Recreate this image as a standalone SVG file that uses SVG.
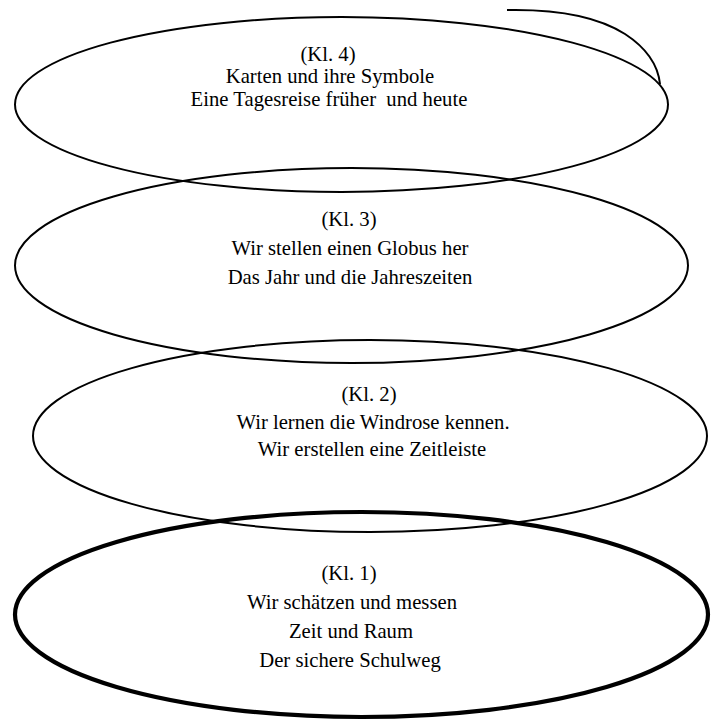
<svg xmlns="http://www.w3.org/2000/svg" width="715" height="720" viewBox="0 0 715 720">
<style>
.e{fill:none;stroke:#000;stroke-width:2}
.thick{stroke-width:4.2}
text{font-family:"Liberation Serif","Times New Roman",serif;font-size:20.7px;fill:#000;text-anchor:middle}
.pre{white-space:pre}
</style>
<rect width="715" height="720" fill="#fff"/>
<g id="kl4">
<ellipse class="e" cx="341.5" cy="104.5" rx="326.5" ry="87.5"/>
<text x="328" y="61">(Kl. 4)</text>
<text x="330" y="83">Karten und ihre Symbole</text>
<text class="pre" x="329" y="106">Eine Tagesreise früher  und heute</text>
</g>
<g id="kl3">
<ellipse class="e" cx="351.5" cy="265.5" rx="336.5" ry="97.5"/>
<text x="349" y="226">(Kl. 3)</text>
<text x="350" y="255">Wir stellen einen Globus her</text>
<text x="350" y="284">Das Jahr und die Jahreszeiten</text>
</g>
<g id="kl2">
<ellipse class="e" cx="370" cy="436" rx="337" ry="96"/>
<text x="369" y="401">(Kl. 2)</text>
<text x="373" y="429">Wir lernen die Windrose kennen.</text>
<text x="372" y="456">Wir erstellen eine Zeitleiste</text>
</g>
<g id="kl1">
<ellipse class="e thick" cx="361.5" cy="614.5" rx="346.5" ry="102.5"/>
<text x="349" y="580">(Kl. 1)</text>
<text x="352" y="609">Wir schätzen und messen</text>
<text x="351" y="638">Zeit und Raum</text>
<text x="350" y="667">Der sichere Schulweg</text>
</g>
<g id="connectors">
<path class="e" d="M507,10 C560,9 600,18 625,34 C648,49 658,65 660,84"/>
</g>
</svg>
